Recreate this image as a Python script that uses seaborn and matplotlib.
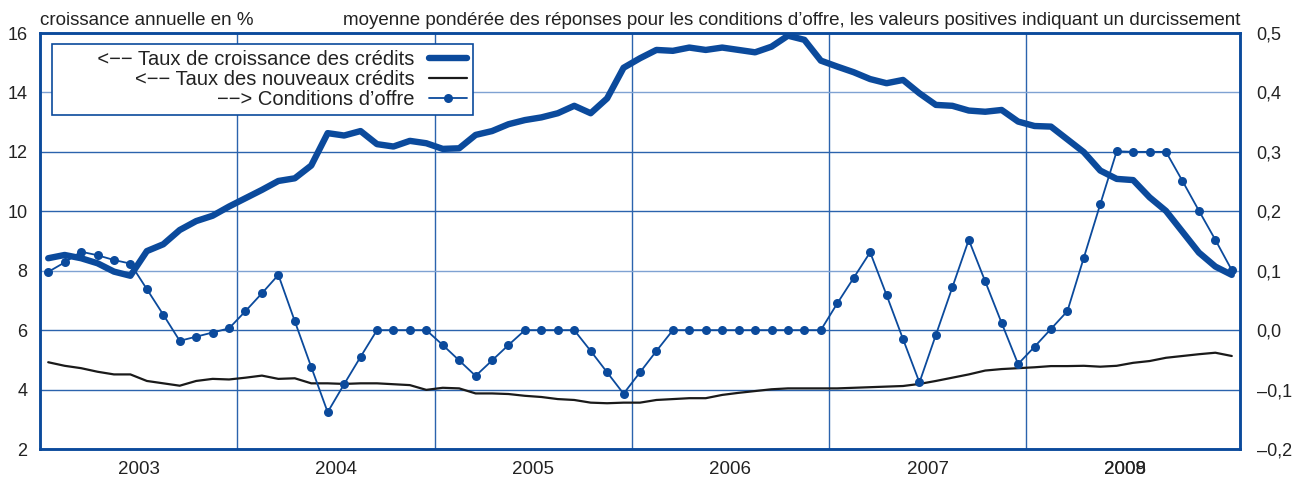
import matplotlib
matplotlib.use("Agg")
import seaborn as sns
import matplotlib.pyplot as plt
import pandas as pd
from matplotlib.ticker import FuncFormatter

# mois : 0 = janvier 2003 ... 72 = janvier 2009
mois = list(range(73))

# taux de croissance des crédits (axe gauche, %)
croissance = [8.42, 8.53, 8.42, 8.25, 7.97, 7.83, 8.66, 8.89, 9.37, 9.67, 9.85, 10.16,
              10.44, 10.72, 11.02, 11.11, 11.54, 12.63, 12.55, 12.70, 12.26, 12.18, 12.37, 12.29,
              12.10, 12.12, 12.57, 12.70, 12.93, 13.07, 13.16, 13.30, 13.55, 13.30, 13.80, 14.83,
              15.15, 15.43, 15.40, 15.51, 15.43, 15.51, 15.43, 15.35, 15.54, 15.91, 15.77, 15.07,
              14.87, 14.68, 14.45, 14.31, 14.42, 13.97, 13.58, 13.55, 13.39, 13.35, 13.41, 13.02,
              12.87, 12.85, 12.42, 11.99, 11.37, 11.09, 11.05, 10.47, 10.01, 9.31, 8.61, 8.14,
              7.86]

# taux des nouveaux crédits (axe gauche, %)
nouveaux = [4.92, 4.80, 4.72, 4.60, 4.51, 4.51, 4.29, 4.21, 4.13, 4.29, 4.36, 4.34,
            4.40, 4.47, 4.36, 4.38, 4.21, 4.21, 4.19, 4.21, 4.21, 4.18, 4.15, 3.99,
            4.06, 4.04, 3.87, 3.87, 3.85, 3.79, 3.75, 3.68, 3.65, 3.56, 3.54, 3.56,
            3.56, 3.65, 3.68, 3.71, 3.71, 3.82, 3.89, 3.95, 4.01, 4.04, 4.04, 4.04,
            4.04, 4.06, 4.08, 4.10, 4.12, 4.19, 4.29, 4.40, 4.51, 4.64, 4.69, 4.72,
            4.75, 4.79, 4.79, 4.80, 4.77, 4.80, 4.90, 4.96, 5.07, 5.13, 5.19, 5.24,
            5.13]

# conditions d'offre (axe droit)
conditions = [0.098, 0.114, 0.132, 0.126, 0.118, 0.112, 0.069, 0.026, -0.018, -0.011, -0.004, 0.003,
              0.032, 0.062, 0.093, 0.015, -0.062, -0.138, -0.091, -0.045, 0.0, 0.0, 0.0, 0.0,
              -0.025, -0.051, -0.077, -0.051, -0.025, 0.0, 0.0, 0.0, 0.0, -0.035, -0.071, -0.107,
              -0.071, -0.035, 0.0, 0.0, 0.0, 0.0, 0.0, 0.0, 0.0, 0.0, 0.0, 0.0,
              0.045, 0.088, 0.131, 0.059, -0.015, -0.088, -0.008, 0.072, 0.152, 0.082, 0.012, -0.057,
              -0.028, 0.002, 0.032, 0.122, 0.212, 0.301, 0.3, 0.3, 0.3, 0.251, 0.201, 0.152,
              0.101]

annees = ["2003", "2004", "2005", "2006", "2007", "2008"]

df = pd.DataFrame({"mois": mois, "croissance": croissance,
                   "nouveaux": nouveaux, "conditions": conditions})

bleu = "#0b4a9c"
grille = "#2b63ad"
texte = "#222222"

sns.set_theme(style="white")
plt.rcParams["font.family"] = ["Liberation Sans", "DejaVu Sans"]

fig = plt.figure(figsize=(13.02, 4.8), dpi=100)
ax = fig.add_axes([40 / 1302, 1 - 449 / 480, 1200 / 1302, 416 / 480])
ax2 = ax.twinx()

sns.lineplot(data=df, x="mois", y="croissance", ax=ax, color=bleu, lw=4.6,
             label="       <−− Taux de croissance des crédits", legend=False)
sns.lineplot(data=df, x="mois", y="nouveaux", ax=ax, color="#1a1a1a", lw=1.6,
             label="<−− Taux des nouveaux crédits", legend=False)
sns.lineplot(data=df, x="mois", y="conditions", ax=ax2, color=bleu, lw=1.3,
             marker="o", markersize=6.5, markeredgewidth=0,
             label="−−> Conditions d’offre", legend=False)

ax.set_xlim(-0.5, 72.5)
ax.set_ylim(2, 16)
ax2.set_ylim(-0.2, 0.5)
ax.set_yticks(range(2, 17, 2))
ax2.set_yticks([-0.2, -0.1, 0.0, 0.1, 0.2, 0.3, 0.4, 0.5])
ax2.yaxis.set_major_formatter(FuncFormatter(
    lambda v, p: f"{round(v, 1) + 0.0:.1f}".replace(".", ",").replace("-", "–")))

# lignes verticales aux changements d'année, libellés au milieu de l'année
ax.set_xticks([11.5, 23.5, 35.5, 47.5, 59.5], labels=[""] * 5)
ax.set_xticks([5.5, 17.5, 29.5, 41.5, 53.5, 65.5], labels=annees, minor=True)

ax.set_xlabel("")
ax.set_ylabel("")
ax2.set_ylabel("")

ax.grid(True, which="major", color=grille, lw=1)
ax2.grid(False)
# les lignes à 8 et 14 sont plus claires dans l'original
gl = ax.get_ygridlines()
gl[3].set_color("#7fa2d2")
gl[6].set_color("#7fa2d2")

ax.tick_params(which="both", length=0, labelsize=13, colors=texte)
ax.tick_params(axis="x", which="minor", pad=9, labelsize=13.5)
ax.tick_params(axis="y", pad=9)
ax2.tick_params(length=0, labelsize=13, colors=texte, pad=12)

# 2009 imprimé par-dessus 2008, comme dans l'original
ax.annotate("2009", xy=(65.5, 0), xycoords=("data", "axes fraction"),
            xytext=(0, -9), textcoords="offset points", ha="center", va="top",
            fontsize=13.5, color=texte)

for a in (ax, ax2):
    for s in a.spines.values():
        s.set_color(bleu)
        s.set_linewidth(1.8)

fig.text(40 / 1302, 1 - 25 / 480, "croissance annuelle en %", fontsize=13.5,
         ha="left", va="baseline", color=texte)
fig.text(1240 / 1302, 1 - 25 / 480,
         "moyenne pondérée des réponses pour les conditions d’offre, "
         "les valeurs positives indiquant un durcissement",
         fontsize=13.5, ha="right", va="baseline", color=texte)

h1, l1 = ax.get_legend_handles_labels()
h2, l2 = ax2.get_legend_handles_labels()
leg = ax2.legend(h1 + h2, l1 + l2, loc="upper left", bbox_to_anchor=(0.01, 0.973),
                 borderaxespad=0, markerfirst=False, fontsize=14.5, frameon=True,
                 fancybox=False, edgecolor=bleu, framealpha=1, handlelength=1.9,
                 labelspacing=0.05, borderpad=0.3, handletextpad=0.7)
leg.get_frame().set_linewidth(1.2)
for t in leg.get_texts():
    t.set_color(texte)

fig.savefig("out.png", dpi=100)
